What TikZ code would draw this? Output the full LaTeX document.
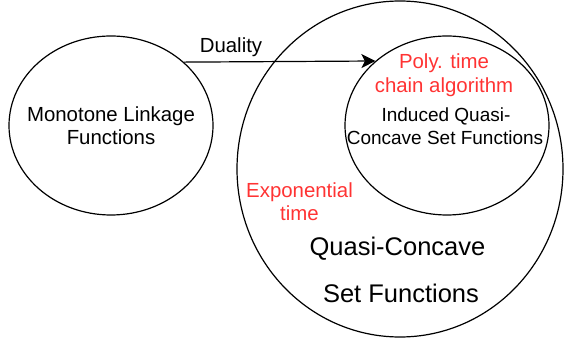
\documentclass[tikz,border=0pt]{standalone}
\usepackage{fontspec}
\setmainfont{Liberation Sans}
\usetikzlibrary{shapes.geometric, arrows.meta}
\definecolor{polyred}{RGB}{255,51,51}

\begin{document}
\begin{tikzpicture}[x=1pt,y=-1pt,
	set/.style={draw, ellipse, line width=1.2pt, inner sep=0pt},
	txt/.style={anchor=base, inner sep=0pt, font=\fontsize{20.4}{24}\selectfont},
	bigtxt/.style={anchor=base, inner sep=0pt, font=\fontsize{25.5}{30}\selectfont}]
	\useasboundingbox (0,0) rectangle (565,347);
	
	%ellipses
	\node[set, minimum width=326pt, minimum height=336pt] (quasi) at (400,169) {};
	\node[set, minimum width=204pt, minimum height=179pt] (mono) at (111,125.5) {};
	\node[set, minimum width=204pt, minimum height=179pt] (induced) at (447,125.5) {};
	
	%duality arrow
	\draw[line width=1.2pt, -{Stealth[length=14pt, width=14pt, inset=3.5pt]}] (mono.41.4) -- (induced.138.6);
	\node[txt] (duality) at (231,52.7) {Duality};
	
	%inner labels
	\node[txt] (monoA) at (111,121.7) {Monotone Linkage};
	\node[txt] (monoB) at (111,145) {Functions};
	%
	\node[txt, text=polyred] (polyA) at (444,69) {Poly. time};
	\node[txt, text=polyred] (polyB) at (444,93) {chain algorithm};
	\node[txt, font=\fontsize{19}{23}\selectfont] (inducedA) at (446,122) {Induced Quasi-};
	\node[txt, font=\fontsize{19}{23}\selectfont] (inducedB) at (445,145) {Concave Set Functions};
	%
	\node[txt, text=polyred] (expA) at (299.5,198) {Exponential};
	\node[txt, text=polyred] (expB) at (299.5,221) {time};
	%
	\node[bigtxt] (quasiA) at (397.5,256) {Quasi-Concave};
	\node[bigtxt] (quasiB) at (401,303) {Set Functions};
\end{tikzpicture}
\end{document}
